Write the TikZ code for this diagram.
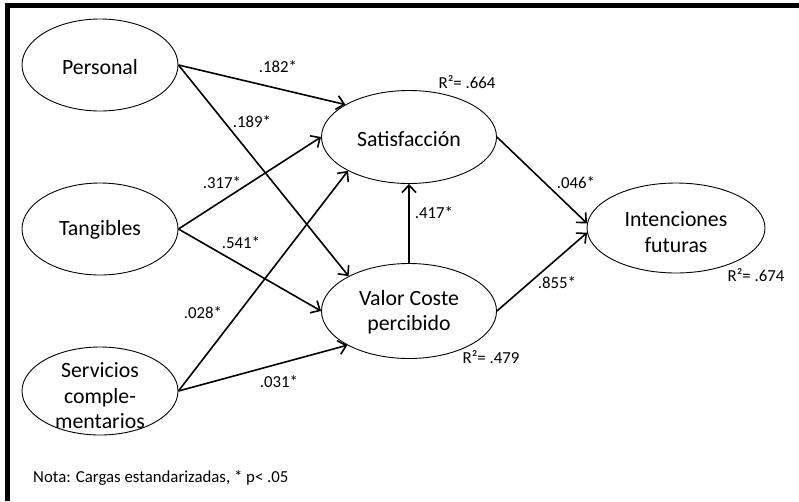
\documentclass[tikz,border=0pt]{standalone}
\usepackage{fontspec}
\setmainfont{Carlito}
\usetikzlibrary{shapes.geometric,arrows.meta}
\begin{document}
\begin{tikzpicture}[x=1pt,y=-1pt,
  srcell/.style={draw,ellipse,line width=0.9pt,minimum width=156pt,minimum height=92pt,inner sep=0pt},
  midell/.style={draw,ellipse,line width=0.9pt,minimum width=175pt,minimum height=93pt,inner sep=0pt},
  maintxt/.style={font=\fontsize{21.8}{25.5}\selectfont,align=center,inner sep=0pt},
  coef/.style={font=\fontsize{16.8}{19}\selectfont,inner sep=0pt},
  path/.style={line width=1.6pt,-{Straight Barb[length=7.5pt,width=14pt,line width=1.6pt]}}
]
\useasboundingbox (0,0) rectangle (799,501);
% frame
\fill[black] (5,3) rectangle (799,7.5);
\fill[black] (5,3) rectangle (10,501);

% ellipses
\node[srcell] (P) at (100,65) {};
\node[srcell] (T) at (100,229) {};
\node[srcell,minimum height=88pt] (Sv) at (100,391) {};
\node[midell] (S) at (409,137) {};
\node[midell,minimum height=95pt] (V) at (409,311) {};
\node[midell,minimum width=178pt,minimum height=90pt] (I) at (676,228) {};

% texts
\node[maintxt] (Pt) at (100,67) {Personal};
\node[maintxt] (Tt) at (100,230) {Tangibles};
\node[maintxt] (Svt) at (100,396) {Servicios\\comple-\\mentarios};
\node[maintxt] (St) at (409,139) {Satisfacción};
\node[maintxt] (Vt) at (409,312) {Valor Coste\\percibido};
\node[maintxt] (It) at (676,232) {Intenciones\\futuras};

% paths
\draw[path] (P.east) -- (S.153);
\draw[path] (P.east) -- (V.150);
\draw[path] (T.east) -- (S.west);
\draw[path] (T.east) -- (V.west);
\draw[path] (Sv.east) -- (S.209);
\draw[path] (Sv.east) -- (V.209);
\draw[path] (V.north) -- (S.south);
\draw[path] (S.east) -- (I.177);
\draw[path] (V.east) -- (I.183);

% coefficients
\node[coef] (c1) at (278,67) {.182*};
\node[coef] (c2) at (252,122) {.189*};
\node[coef] (c3) at (222,183) {.317*};
\node[coef] (c4) at (241,243) {.541*};
\node[coef] (c5) at (203,313) {.028*};
\node[coef] (c6) at (279,382) {.031*};
\node[coef] (c7) at (434,213) {.417*};
\node[coef] (c8) at (576,183) {.046*};
\node[coef] (c9) at (557,283) {.855*};
\node[coef] (r1) at (467,82) {R²= .664};
\node[coef] (r2) at (756,275) {R²= .674};
\node[coef] (r3) at (491,357) {R²= .479};
\node[coef,anchor=west] (nota) at (33,478) {Nota: Cargas estandarizadas, * p< .05};
\end{tikzpicture}
\end{document}
